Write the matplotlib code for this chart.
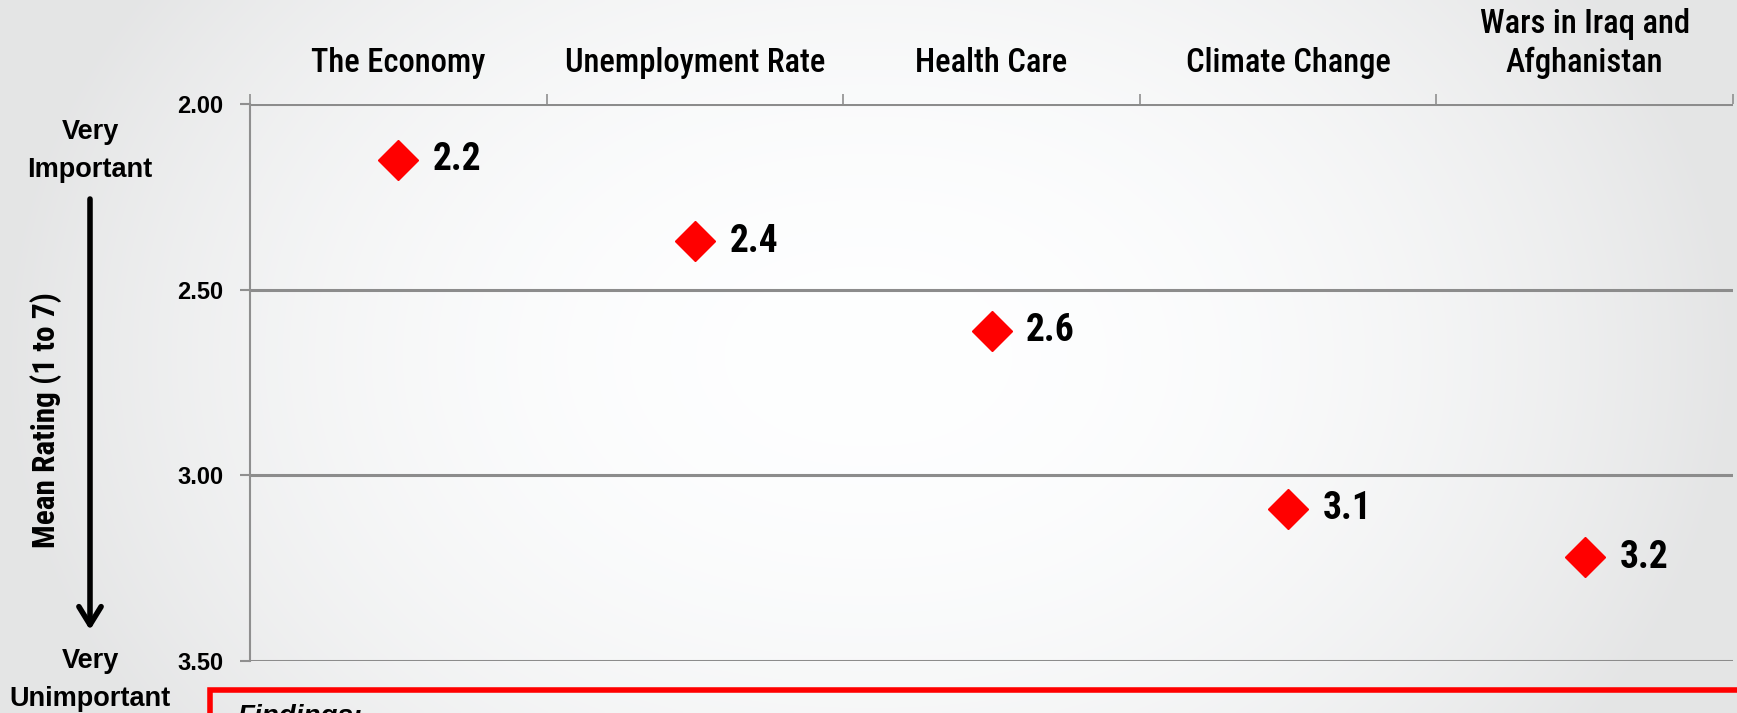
import numpy as np
import matplotlib
matplotlib.use("Agg")
import matplotlib.pyplot as plt
from matplotlib.patches import Rectangle, FancyArrowPatch

# data
categories = ["The Economy", "Unemployment Rate", "Health Care",
              "Climate Change", "Wars in Iraq and\nAfghanistan"]
mean_ratings = [2.15, 2.37, 2.61, 3.09, 3.22]
rating_labels = ["2.2", "2.4", "2.6", "3.1", "3.2"]
y_ticks = [2.0, 2.5, 3.0, 3.5]
y_tick_labels = ["2.00", "2.50", "3.00", "3.50"]

NARROW = ["Roboto Condensed", "Liberation Sans", "DejaVu Sans"]
BOLD = ["Liberation Sans", "DejaVu Sans"]

W, H = 1737, 713
fig = plt.figure(figsize=(W / 100, H / 100), dpi=100)

# light grey slide background, white in the middle
bg = fig.add_axes([0, 0, 1, 1], zorder=-10)
xx, yy = np.meshgrid(np.linspace(-1, 1, 400), np.linspace(-1, 1, 200))
shade = 1 - 0.10 * np.clip(np.abs(xx) ** 2.2 + 0.3 * yy ** 2, 0, 1)
bg.imshow(np.dstack([shade * 0.995, shade * 0.998, shade, np.ones_like(shade)]),
          aspect="auto", extent=[0, 1, 0, 1], interpolation="bilinear")
bg.set_xlim(0, 1)
bg.set_ylim(0, 1)
bg.axis("off")

ax = fig.add_axes([250 / W, 1 - 661 / H, (1733 - 250) / W, (661 - 104) / H])
ax.patch.set_alpha(0)

x = np.arange(len(categories)) + 0.5
ax.plot(x, mean_ratings, linestyle="none", marker="D", ms=20,
        color="#ff0000", mec="#ff0000", zorder=5, clip_on=False)
for xi, v, lab in zip(x, mean_ratings, rating_labels):
    ax.annotate(lab, (xi, v), xytext=(25, 0), textcoords="offset points",
                va="center", ha="left", fontsize=27, fontweight="bold",
                family=NARROW, color="black")

ax.set_xlim(0, len(categories))
ax.set_ylim(3.5, 2.0)

# y axis
ax.set_yticks(y_ticks)
ax.set_yticklabels(y_tick_labels, fontsize=17, fontweight="bold", family=BOLD)
ax.tick_params(axis="y", length=7, width=1.5, color="#8f8f8f", pad=12)
ax.yaxis.grid(True, color="#8c8c8c", lw=2.2)
ax.set_axisbelow(True)

# categories on top, ticks at the borders between them
ax.xaxis.tick_top()
ax.set_xticks(np.arange(len(categories) + 1))
ax.set_xticklabels([])
ax.set_xticks(x, minor=True)
ax.set_xticklabels(categories, minor=True, fontsize=23.5, family=NARROW,
                   fontweight="medium", linespacing=1.25)
ax.tick_params(axis="x", which="major", length=7.5, width=1.2, color="#8f8f8f",
               top=True, bottom=False)
ax.tick_params(axis="x", which="minor", length=0, pad=18, top=True, bottom=False)

for s in ["top", "bottom", "right"]:
    ax.spines[s].set_visible(False)
ax.spines["left"].set_color("#8f8f8f")
ax.spines["left"].set_linewidth(1.5)

# left side annotation
fig.text(90 / W, 1 - 151 / H, "Very\nImportant", ha="center", va="center",
         fontsize=19.5, fontweight="bold", family=BOLD, linespacing=1.6)
fig.text(90 / W, 1 - 680 / H, "Very\nUnimportant", ha="center", va="center",
         fontsize=19.5, fontweight="bold", family=BOLD, linespacing=1.6)
fig.text(46 / W, 1 - 420 / H, "Mean Rating (1 to 7)", rotation=90,
         ha="center", va="center", fontsize=22.5, fontweight="bold", family=NARROW)
fig.add_artist(FancyArrowPatch(
    (90 / W, 1 - 199 / H), (90 / W, 1 - 630 / H), transform=fig.transFigure,
    arrowstyle="->,head_length=13,head_width=8", lw=4, color="black",
    mutation_scale=1, shrinkA=0, shrinkB=0))

# red findings box cut by the slide edge
fig.add_artist(Rectangle((210 / W, -0.05), 1.0, (1 - 690 / H) + 0.05,
                         transform=fig.transFigure, fill=False,
                         edgecolor="#ff0000", lw=4, clip_on=False))
fig.text(238 / W, 1 - 704 / H, "Findings:", ha="left", va="top",
         fontsize=20, fontstyle="italic", fontweight="bold", family=BOLD)

fig.savefig("out.png", dpi=100)
